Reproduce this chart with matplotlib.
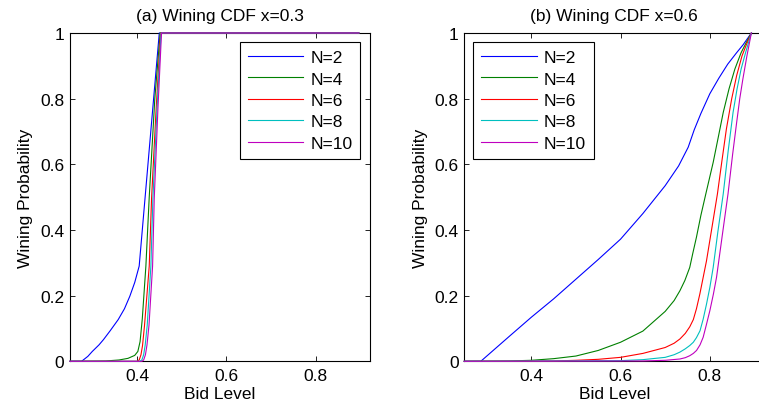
import numpy as np
import matplotlib
matplotlib.use("Agg")
import matplotlib.pyplot as plt

plt.rcParams.update({
    "font.family": ["Liberation Sans", "DejaVu Sans"],
    "font.size": 12.5,
    "axes.linewidth": 0.8,
    "xtick.direction": "in", "ytick.direction": "in",
    "xtick.top": True, "ytick.right": True,
    "xtick.major.size": 3.5, "ytick.major.size": 3.5,
    "xtick.major.width": 0.6, "ytick.major.width": 0.6,
    "xtick.major.pad": 5, "ytick.major.pad": 4,
})

labels = ["N=2", "N=4", "N=6", "N=8", "N=10"]
colors = ["#0000ff", "#008000", "#ff0000", "#00bfbf", "#bf00bf"]

# (a) x = 0.3
a_x2 = [0.25, 0.276, 0.29, 0.30, 0.315, 0.325, 0.34, 0.358, 0.372, 0.384, 0.395, 0.405, 0.45, 0.897]
a_y2 = [0, 0, 0.015, 0.03, 0.05, 0.066, 0.093, 0.127, 0.16, 0.198, 0.24, 0.29, 1, 1]
a_x4 = [0.25, 0.33, 0.36, 0.38, 0.395, 0.402, 0.407, 0.412, 0.42, 0.4275, 0.44, 0.452, 0.897]
a_y4 = [0, 0.001, 0.004, 0.009, 0.018, 0.03, 0.06, 0.13, 0.29, 0.5, 0.8, 1, 1]
a_x6 = [0.25, 0.40, 0.405, 0.409, 0.4125, 0.417, 0.4275, 0.4327, 0.443, 0.453, 0.897]
a_y6 = [0, 0, 0.004, 0.02, 0.048, 0.11, 0.29, 0.495, 0.77, 1, 1]
a_x8 = [0.25, 0.406, 0.411, 0.415, 0.4185, 0.423, 0.4312, 0.4357, 0.445, 0.454, 0.897]
a_y8 = [0, 0, 0.004, 0.02, 0.05, 0.11, 0.29, 0.495, 0.77, 1, 1]
a_x10 = [0.25, 0.411, 0.415, 0.419, 0.4225, 0.427, 0.435, 0.4387, 0.447, 0.455, 0.897]
a_y10 = [0, 0, 0.004, 0.02, 0.05, 0.11, 0.29, 0.495, 0.77, 1, 1]

# (b) x = 0.6
b_x2 = [0.25, 0.287, 0.35, 0.4, 0.45, 0.5, 0.55, 0.6, 0.65, 0.70, 0.73, 0.7515,
        0.765, 0.78, 0.80, 0.82, 0.84, 0.86, 0.875, 0.893]
b_y2 = [0, 0, 0.075, 0.134, 0.19, 0.25, 0.31, 0.372, 0.45, 0.535, 0.595, 0.652,
        0.705, 0.755, 0.815, 0.862, 0.905, 0.94, 0.965, 1.0]
b_x4 = [0.25, 0.3, 0.35, 0.4, 0.45, 0.5, 0.55, 0.6, 0.65, 0.70, 0.72, 0.733, 0.744,
        0.755, 0.762, 0.770, 0.78, 0.791, 0.8075, 0.82, 0.83, 0.843, 0.856, 0.87, 0.882, 0.893]
b_y4 = [0, 0.0005, 0.001, 0.003, 0.008, 0.016, 0.033, 0.058, 0.092, 0.152, 0.185, 0.215, 0.246,
        0.286, 0.33, 0.378, 0.445, 0.51, 0.606, 0.69, 0.758, 0.83, 0.89, 0.94, 0.972, 1.0]
b_x6 = [0.25, 0.4, 0.45, 0.5, 0.55, 0.6, 0.65, 0.7, 0.72, 0.733, 0.745, 0.755, 0.763,
        0.77, 0.7776, 0.7925, 0.805, 0.817, 0.827, 0.837, 0.849, 0.86, 0.872, 0.882, 0.893]
b_y6 = [0, 0.0005, 0.001, 0.003, 0.006, 0.012, 0.024, 0.042, 0.055, 0.068, 0.085, 0.105, 0.127,
        0.16, 0.205, 0.306, 0.41, 0.51, 0.61, 0.707, 0.80, 0.87, 0.93, 0.965, 1.0]
b_x8 = [0.25, 0.6, 0.65, 0.7, 0.72, 0.733, 0.745, 0.755, 0.763, 0.77, 0.778, 0.785, 0.7925,
        0.80, 0.8075, 0.818, 0.83, 0.841, 0.852, 0.861, 0.87, 0.88, 0.893]
b_y8 = [0, 0.002, 0.005, 0.012, 0.02, 0.028, 0.038, 0.048, 0.058, 0.072, 0.093, 0.128, 0.174,
        0.225, 0.286, 0.395, 0.51, 0.64, 0.758, 0.83, 0.89, 0.94, 1.0]
b_x10 = [0.25, 0.65, 0.7, 0.733, 0.745, 0.755, 0.763, 0.7702, 0.778, 0.785, 0.792, 0.80,
         0.808, 0.815, 0.828, 0.8407, 0.851, 0.86, 0.867, 0.874, 0.883, 0.893]
b_y10 = [0, 0.001, 0.003, 0.007, 0.011, 0.017, 0.024, 0.033, 0.05, 0.073, 0.11, 0.154,
         0.205, 0.256, 0.385, 0.51, 0.63, 0.727, 0.80, 0.86, 0.93, 1.0]

panels = [
    ("(a) Wining CDF x=0.3", [(a_x2, a_y2), (a_x4, a_y4), (a_x6, a_y6), (a_x8, a_y8), (a_x10, a_y10)]),
    ("(b) Wining CDF x=0.6", [(b_x2, b_y2), (b_x4, b_y4), (b_x6, b_y6), (b_x8, b_y8), (b_x10, b_y10)]),
]

fig = plt.figure(figsize=(7.59, 4.14), dpi=100)
ax_a = fig.add_axes([0.0922, 0.1249, 0.3953, 0.793])
ax_b = fig.add_axes([0.6117, 0.1249, 0.3953, 0.793])

for ax, (title, series), leg_loc, anchor in zip(
        [ax_a, ax_b], panels, ["upper right", "upper left"], [(0.967, 0.972), (0.03, 0.972)]):
    for (xs, ys), lab, c in zip(series, labels, colors):
        ax.plot(xs, ys, color=c, lw=0.8, label=lab, clip_on=False, zorder=3)
    ax.set_xlim(0.25, 0.922)
    ax.set_ylim(0, 1)
    ax.set_xticks([0.4, 0.6, 0.8])
    ax.set_xticklabels(["0.4", "0.6", "0.8"])
    ax.set_yticks([0, 0.2, 0.4, 0.6, 0.8, 1])
    ax.set_yticklabels(["0", "0.2", "0.4", "0.6", "0.8", "1"])
    ax.set_title(title, fontsize=12.5, pad=9)
    ax.set_xlabel("Bid Level", labelpad=2)
    ax.set_ylabel("Wining Probability", labelpad=5)
    leg = ax.legend(loc=leg_loc, bbox_to_anchor=anchor, fancybox=False, framealpha=1,
                    edgecolor="black", handlelength=3.2, handletextpad=0.4,
                    labelspacing=0.36, borderpad=0.45, borderaxespad=0)
    leg.get_frame().set_linewidth(0.8)

fig.savefig("out.png", dpi=100)
